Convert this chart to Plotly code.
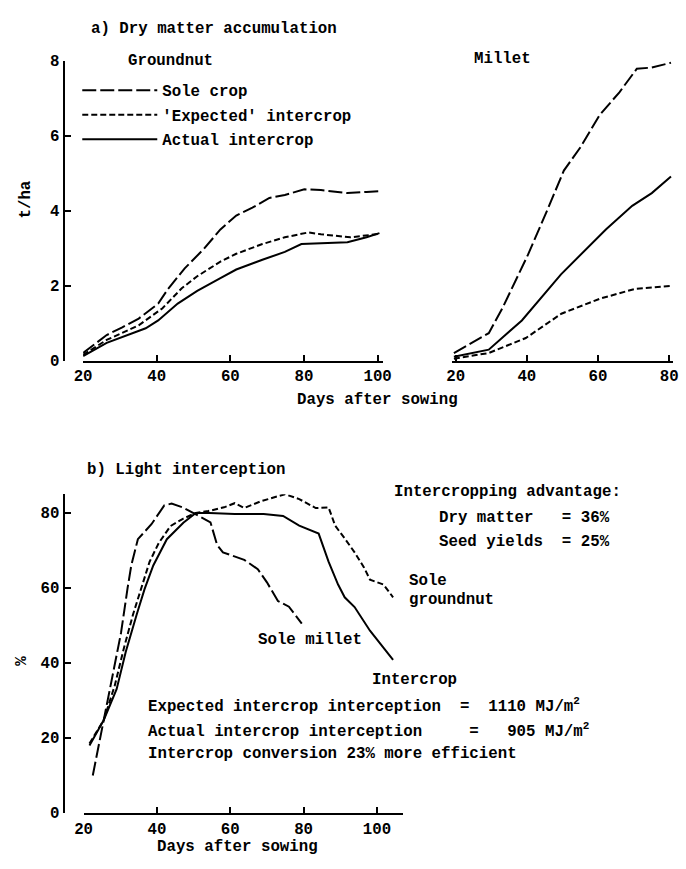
import plotly.graph_objects as go

W, H = 686, 869
FONT = "Liberation Mono"
FS = 15.75

# ---------------- a) Dry matter accumulation (t/ha) ----------------
gn_sole_days = [20, 26.4, 30.5, 35.1, 40.4, 43, 47.6, 52.8, 57.3, 61.6, 66, 70.6, 74.8, 80.1, 84.6, 91.8, 97, 100.5]
gn_sole = [0.2, 0.68, 0.88, 1.12, 1.52, 1.9, 2.46, 2.98, 3.5, 3.87, 4.08, 4.34, 4.42, 4.57, 4.55, 4.47, 4.5, 4.52]

gn_exp_days = [20, 26.4, 35.1, 41.5, 46.8, 51, 57.3, 61.6, 68.7, 74.8, 81.2, 84.6, 92.6, 100.5]
gn_exp = [0.15, 0.55, 0.94, 1.39, 1.93, 2.25, 2.64, 2.85, 3.11, 3.29, 3.42, 3.37, 3.29, 3.38]

gn_act_days = [20, 26.4, 37, 40.4, 45.7, 51, 57.3, 61.6, 68.7, 74.8, 79.3, 86.5, 91.8, 97, 100.5]
gn_act = [0.12, 0.47, 0.86, 1.07, 1.52, 1.86, 2.2, 2.43, 2.69, 2.9, 3.11, 3.14, 3.16, 3.29, 3.4]

mil_sole_days = [19.5, 29.3, 33.2, 40.3, 45.8, 50.4, 55.1, 60.5, 66, 70.9, 75, 80.5]
mil_sole = [0.2, 0.73, 1.41, 2.82, 4.03, 5.07, 5.7, 6.56, 7.16, 7.79, 7.82, 7.95]

mil_act_days = [19.5, 29.3, 38.6, 49.6, 62.2, 69.6, 75.1, 80.5]
mil_act = [0.1, 0.29, 1.07, 2.3, 3.5, 4.13, 4.47, 4.91]

mil_exp_days = [19.5, 29.3, 39.7, 49.7, 60.5, 70.3, 80.5]
mil_exp = [0.05, 0.2, 0.6, 1.25, 1.65, 1.91, 1.99]

ticks_a_y = [0, 2, 4, 6, 8]
ticks_gn_x = [20, 40, 60, 80, 100]
ticks_mil_x = [20, 40, 60, 80]

# ---------------- b) Light interception (%) ----------------
li_millet_days = [22.5, 25.5, 28.7, 30.2, 32, 33, 34.8, 38.5, 42, 44, 47, 51, 54.6, 56.4, 58, 63.8, 67.5, 70, 73, 76, 79.5]
li_millet = [10, 24.8, 40, 48, 60, 66, 73, 77, 82, 82.5, 81.5, 79.5, 77.5, 71.5, 69.5, 67.5, 65, 61.5, 56.5, 55, 50.5]

li_gn_days = [21.6, 25.5, 28.5, 31, 33.5, 35.8, 38, 40.5, 43.7, 47.2, 50.6, 54, 58.3, 61.2, 63.8, 68.3, 74.9, 78.8,
              83.3, 86.8, 88.6, 91.2, 93.9, 96.5, 98.1, 101.8, 104.4]
li_gn = [18.5, 24.8, 34, 44, 53, 60, 67, 72, 76.5, 78.5, 80, 80.5, 81.5, 82.6, 81.3, 83.1, 85, 83.7,
         81.3, 81.5, 76.6, 73.2, 69.5, 65.4, 62.2, 60.9, 57.5]

li_ic_days = [21.6, 25.5, 29, 31.5, 34.5, 36.6, 39, 42.7, 47.2, 50.6, 54.3, 61.2, 69.1, 74.4, 78.8, 84.1, 86.8,
              89.4, 91.2, 93.9, 98.1, 104.4]
li_ic = [18, 24.8, 33, 43, 53, 59.6, 66, 73, 77.4, 80, 80, 79.7, 79.7, 79.2, 76.6, 74.5, 67,
         60.9, 57.5, 54.9, 48.6, 40.8]

ticks_b_y = [0, 20, 40, 60, 80]
ticks_b_x = [20, 40, 60, 80, 100]

LONG = "14px,4px"
SHORT = "6px,3px"
LW = 2

def px(x):
    return x / W

def py(y):
    return 1 - y / H

fig = go.Figure()

# Groundnut panel
fig.add_trace(go.Scatter(x=gn_sole_days, y=gn_sole, mode="lines", name="Sole crop",
                         line=dict(color="black", width=LW, dash=LONG), legendgroup="a",
                         xaxis="x", yaxis="y"))
fig.add_trace(go.Scatter(x=gn_exp_days, y=gn_exp, mode="lines", name="'Expected' intercrop",
                         line=dict(color="black", width=LW, dash=SHORT), legendgroup="b",
                         xaxis="x", yaxis="y"))
fig.add_trace(go.Scatter(x=gn_act_days, y=gn_act, mode="lines", name="Actual intercrop",
                         line=dict(color="black", width=LW), legendgroup="c",
                         xaxis="x", yaxis="y"))
# Millet panel
fig.add_trace(go.Scatter(x=mil_sole_days, y=mil_sole, mode="lines", showlegend=False,
                         line=dict(color="black", width=LW, dash=LONG), xaxis="x2", yaxis="y2"))
fig.add_trace(go.Scatter(x=mil_act_days, y=mil_act, mode="lines", showlegend=False,
                         line=dict(color="black", width=LW), xaxis="x2", yaxis="y2"))
fig.add_trace(go.Scatter(x=mil_exp_days, y=mil_exp, mode="lines", showlegend=False,
                         line=dict(color="black", width=LW, dash=SHORT), xaxis="x2", yaxis="y2"))
# Light interception
fig.add_trace(go.Scatter(x=li_millet_days, y=li_millet, mode="lines", showlegend=False,
                         line=dict(color="black", width=LW, dash=LONG), xaxis="x3", yaxis="y3"))
fig.add_trace(go.Scatter(x=li_gn_days, y=li_gn, mode="lines", showlegend=False,
                         line=dict(color="black", width=LW, dash=SHORT), xaxis="x3", yaxis="y3"))
fig.add_trace(go.Scatter(x=li_ic_days, y=li_ic, mode="lines", showlegend=False,
                         line=dict(color="black", width=LW), xaxis="x3", yaxis="y3"))

axis_common = dict(showgrid=False, zeroline=False, showline=True, linecolor="black", linewidth=2,
                   ticks="inside", ticklen=6, tickwidth=2, tickcolor="black",
                   tickfont=dict(family=FONT, size=FS, color="black", weight="bold"))

fig.update_layout(
    xaxis=dict(domain=[px(76), px(384)], range=[20, 101.6], anchor="y",
               tickvals=ticks_gn_x, **axis_common),
    yaxis=dict(domain=[py(361), py(55)], range=[0, 8], anchor="free", position=px(56),
               tickvals=ticks_a_y, **axis_common),
    xaxis2=dict(domain=[px(454), px(681)], range=[18.9, 81.1], anchor="y2",
                tickvals=ticks_mil_x, **axis_common),
    yaxis2=dict(domain=[py(361), py(55)], range=[0, 8], anchor="x2", visible=False),
    xaxis3=dict(domain=[px(76.5), px(404)], range=[20, 107.1], anchor="y3",
                tickvals=ticks_b_x, **axis_common),
    yaxis3=dict(domain=[py(823), py(497.5)], range=[0, 85], anchor="free", position=px(56),
                tickvals=ticks_b_y, **axis_common),
)

def note(x, y, text, anchor="left", angle=0):
    fig.add_annotation(x=px(x), y=py(y), xref="paper", yref="paper", text=text, showarrow=False,
                       xanchor=anchor, yanchor="middle", textangle=angle,
                       font=dict(family=FONT, size=FS, color="black", weight="bold"))

note(82, 22, "a) Dry matter accumulation")
note(120, 55, "Groundnut")
note(475, 53, "Millet")
note(17, 197, "t/ha", anchor="center", angle=-90)
note(293, 401, "Days after sowing")

note(78, 473, "b) Light interception")
note(393, 495, "Intercropping advantage:")
note(439, 522, "Dry matter   = 36%")
note(439, 546, "Seed yields  = 25%")
note(408, 586, "Sole")
note(408, 606, "groundnut")
note(253, 646, "Sole millet")
note(370, 687, "Intercrop")
note(140, 713, "Expected intercrop interception  =  1110 MJ/m<sup>2</sup>")
note(140, 739, "Actual intercrop interception     =   905 MJ/m<sup>2</sup>")
note(140, 763, "Intercrop conversion 23% more efficient")
note(14, 668, "%", anchor="center", angle=-90)
note(150, 858, "Days after sowing")

fig.update_layout(
    width=W, height=H, margin=dict(l=0, r=0, t=0, b=0),
    paper_bgcolor="white", plot_bgcolor="white",
    showlegend=True,
    legend=dict(x=px(70), y=py(68), xanchor="left", yanchor="top", bgcolor="rgba(0,0,0,0)",
                font=dict(family=FONT, size=FS, color="black", weight="bold"), itemwidth=75,
                traceorder="grouped", tracegroupgap=1),
)

fig.write_html("out.html", config={"displayModeBar": False},
               post_script="document.body.style.margin='0';document.body.style.overflow='hidden';")
